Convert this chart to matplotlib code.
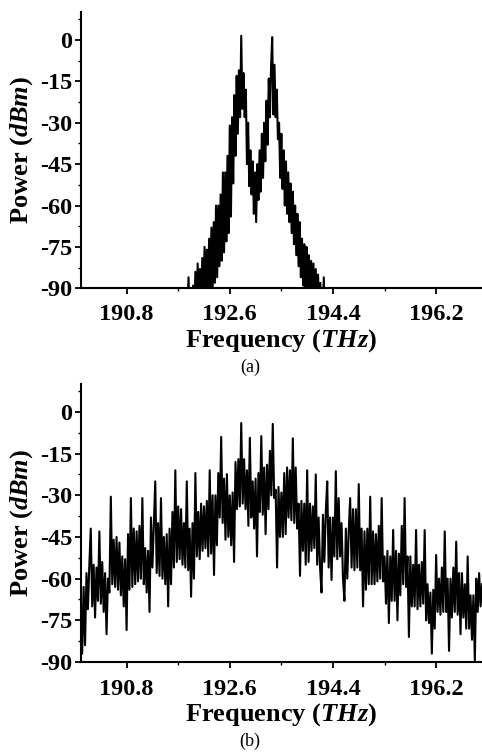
import matplotlib.pyplot as plt
import numpy as np

plt.rcParams['font.family'] = ['Liberation Serif', 'DejaVu Serif']
plt.rcParams['font.weight'] = 'bold'
plt.rcParams['axes.labelweight'] = 'bold'
plt.rcParams['mathtext.fontset'] = 'custom'
plt.rcParams['mathtext.it'] = 'Liberation Serif:italic:bold'
plt.rcParams['mathtext.rm'] = 'Liberation Serif:bold'

# (a) spectrum, 191.80 .. 194.30 THz
freq_a_start, freq_a_stop = 191.80, 194.30
power_a = [
    -100, -100, -100, -100, -86, -100, -91, -100, -89, -100,
    -84, -98, -81, -96, -83, -97, -79, -94, -75, -93,
    -76, -92, -72, -90, -68, -91, -66, -88, -60, -86,
    -60, -82, -56, -80, -48, -77, -48, -73, -42, -70,
    -31, -64, -28, -52, -20, -42, -13, -34, -11, -28,
    1.5, -25, -12, -28, -18, -45, -30, -53, -40, -56,
    -44, -63, -48, -66, -45, -58, -40, -55, -34, -50,
    -30, -44, -22, -38, -14, -28, -10, 1.0, -27, -9,
    -28, -18, -36, -30, -50, -34, -54, -40, -60, -44,
    -63, -48, -66, -52, -70, -55, -74, -60, -78, -63,
    -82, -66, -86, -72, -89, -74, -95, -75, -100, -78,
    -100, -80, -100, -81, -100, -83, -100, -85, -100, -88,
    -100, -100, -86, -100, -100, -100,
]

# (b) spectrum, 190.0 .. 197.0 THz
freq_b_start, freq_b_stop = 190.0, 197.0
power_b = [
    -66, -87, -63, -84, -58, -71, -55, -42,      # 190.0
    -70, -55, -74, -56, -68, -43, -69, -54,      # 190.2
    -72, -58, -80, -60, -65, -30.5, -62, -46,    # 190.4
    -63, -45, -64, -47, -66, -52, -70, -53,      # 190.6
    -78.5, -44, -64, -31, -63, -42, -62, -43,    # 190.8
    -61, -41, -60, -31, -62, -49, -65, -50,      # 191.0
    -72, -38, -56, -40, -25, -58, -40, -59,      # 191.2
    -31, -60, -45, -62, -44, -70, -42, -62,      # 191.4
    -36, -56, -21, -54, -34, -53, -35, -55,      # 191.6
    -40, -56, -25, -57, -42, -66.5, -40, -60,    # 191.8
    -22, -52, -36, -53, -33, -50, -34, -49,      # 192.0
    -32, -52, -21, -51, -30, -58.7, -30, -48,    # 192.2
    -22, -38, -9, -40, -24, -46, -22.4, -45,     # 192.4
    -30, -48, -29, -54, -18, -35, -17, -34,      # 192.6
    -4, -33, -17, -35, -21, -41, -9.3, -38,      # 192.8
    -25, -42, -24, -52, -22, -36, -8.7, -37,     # 193.0
    -20, -44, -19, -35, -14, -30, -4.3, -31,     # 193.2
    -28, -56, -27, -45, -29, -45, -22, -44,      # 193.4
    -20, -38, -21, -39, -9.5, -40, -20, -42,     # 193.6
    -33, -59, -32, -50, -33, -55, -21, -54,      # 193.8
    -33, -50, -34, -49, -22.5, -55, -38, -56,    # 194.0
    -65, -37, -54, -36, -25, -56, -38, -60.5,    # 194.2
    -38, -52, -21.3, -53, -31, -52, -40, -60,    # 194.4
    -68, -42, -60, -43, -31, -56, -35, -57,      # 194.6
    -35, -56, -26, -57, -42, -70, -43, -64,      # 194.8
    -42, -62, -30.5, -62, -43, -62, -44, -61,    # 195.0
    -41, -60, -31, -61, -52, -69, -50, -76,      # 195.2
    -52, -68, -42.5, -68, -50, -75, -51, -66,    # 195.4
    -41, -62, -31, -63, -52, -81, -52, -70,      # 195.6
    -55, -70, -42.5, -71, -55, -70, -54, -69,    # 195.8
    -42.5, -75, -62, -76, -65, -87, -64, -78,    # 196.0
    -51.5, -72, -60, -73, -56, -72, -43, -72,    # 196.2
    -60, -86, -60, -74, -56, -72, -46.7, -73,    # 196.4
    -58, -80, -58, -74, -62, -78, -52, -78,      # 196.6
    -66, -82, -66, -89.5, -60, -72, -58, -70,    # 196.8
    -62,                                         # 197.0
]

x_ticks = [190.8, 192.6, 194.4, 196.2]
x_minor = [191.7, 193.5, 195.3]
y_ticks = [0, -15, -30, -45, -60, -75, -90]
y_minor = [7.5, -7.5, -22.5, -37.5, -52.5, -67.5, -82.5]


def style_axes(ax, tick_pad):
    ax.set_xlim(190, 197)
    ax.set_ylim(-90, 10)
    ax.set_xticks(x_ticks)
    ax.set_xticks(x_minor, minor=True)
    ax.set_xticklabels([f"{t:.1f}" for t in x_ticks])
    ax.set_yticks(y_ticks)
    ax.set_yticks(y_minor, minor=True)
    ax.set_yticklabels([str(t) for t in y_ticks])
    ax.spines['top'].set_visible(False)
    ax.spines['right'].set_visible(False)
    ax.spines['left'].set_linewidth(1.5)
    ax.spines['bottom'].set_linewidth(1.5)
    ax.tick_params(which='major', direction='out', length=4, width=1.3,
                   labelsize=17.5)
    ax.tick_params(axis='x', which='major', pad=tick_pad)
    ax.tick_params(axis='y', which='major', pad=2)
    ax.tick_params(which='minor', direction='out', length=2.5, width=1.0)
    ax.set_xlabel('Frequency ($THz$)', fontsize=19, fontweight='bold')
    ax.set_ylabel('Power ($dBm$)', fontsize=19, fontweight='bold')
    ax.yaxis.set_label_coords(-0.114, 0.5)


fig = plt.figure(figsize=(4.82, 7.55), dpi=100)

ax_a = fig.add_axes([0.1675, 0.6181, 0.8325, 0.3656])
freq_a = np.linspace(freq_a_start, freq_a_stop, len(power_a))
ax_a.plot(freq_a, power_a, color='black', lw=1.5)
style_axes(ax_a, 7)
ax_a.xaxis.set_label_coords(0.5, -0.14)

ax_b = fig.add_axes([0.1675, 0.1232, 0.8325, 0.368])
freq_b = np.linspace(freq_b_start, freq_b_stop, len(power_b))
ax_b.plot(freq_b, power_b, color='black', lw=1.5)
style_axes(ax_b, 8.5)
ax_b.xaxis.set_label_coords(0.5, -0.14)

fig.text(250 / 482, 1 - 367 / 755, '(a)', ha='center', va='center',
         fontsize=13, fontweight='normal')
fig.text(250 / 482, 1 - 741.7 / 755, '(b)', ha='center', va='center',
         fontsize=13, fontweight='normal')

fig.savefig('out.png', dpi=100)
